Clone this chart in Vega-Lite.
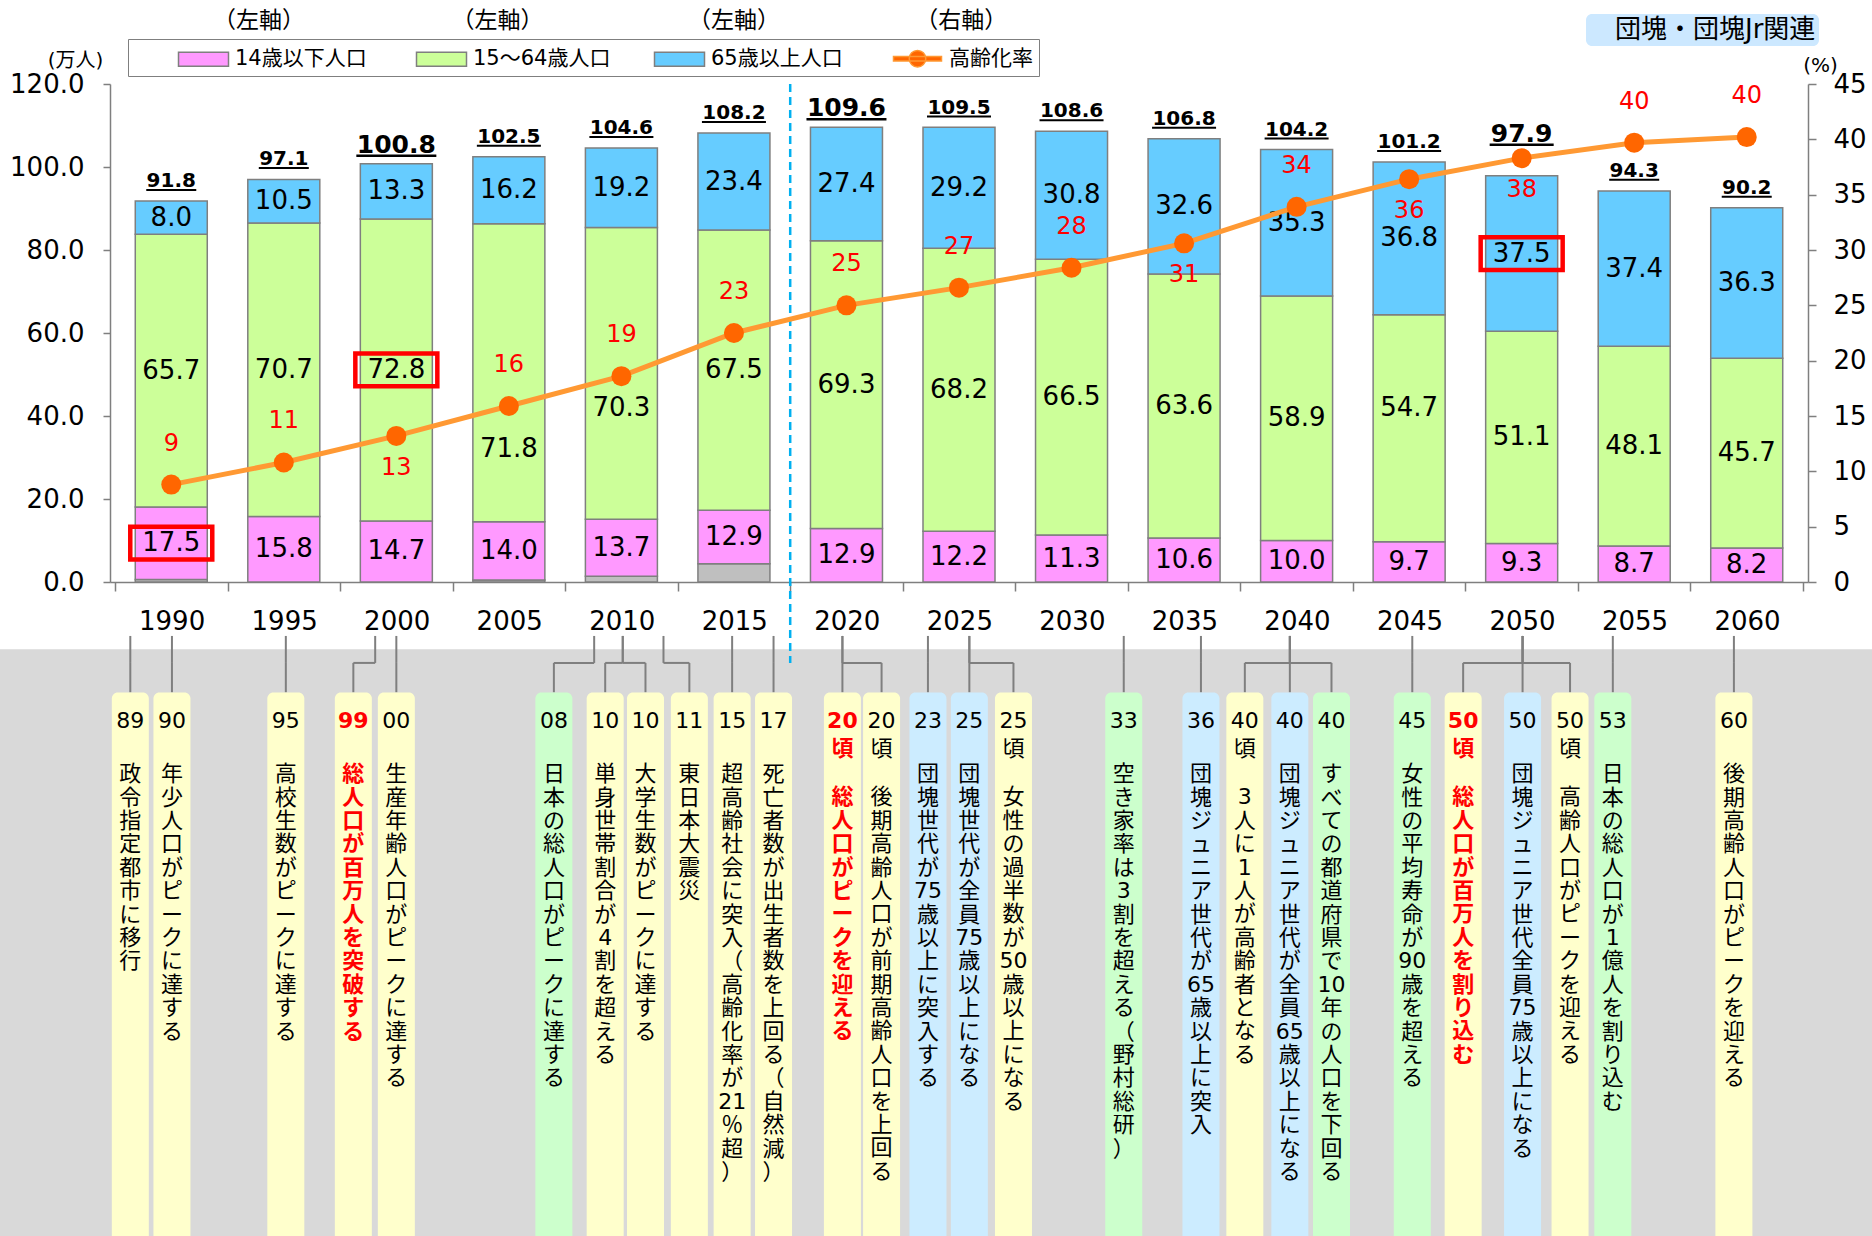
{
  "$schema": "https://vega.github.io/schema/vega-lite/v6.json",
  "autosize": {"type": "none"},
  "padding": {"left": 110, "top": 84, "right": 64, "bottom": 654},
  "width": 1698,
  "height": 498,
  "background": "#ffffff",
  "config": {
    "view": {"stroke": null},
    "font": "DejaVu Sans, Noto Sans CJK JP",
    "axis": {"grid": false, "domainColor": "#7F7F7F", "tickColor": "#7F7F7F", "domainWidth": 1.5, "tickWidth": 1.5, "labelColor": "#000000", "titleColor": "#000000", "titleFontWeight": "normal", "labelFontSize": 26, "titleFontSize": 20},
    "legend": {"labelColor": "#000000", "labelFontSize": 20}
  },
  "datasets": {
    "segments": [
      {"year": 1990, "group": "不詳", "value": 0.6},
      {"year": 1990, "group": "14歳以下人口", "value": 17.5},
      {"year": 1990, "group": "15～64歳人口", "value": 65.7},
      {"year": 1990, "group": "65歳以上人口", "value": 8.0},
      {"year": 1995, "group": "14歳以下人口", "value": 15.8},
      {"year": 1995, "group": "15～64歳人口", "value": 70.7},
      {"year": 1995, "group": "65歳以上人口", "value": 10.5},
      {"year": 2000, "group": "14歳以下人口", "value": 14.7},
      {"year": 2000, "group": "15～64歳人口", "value": 72.8},
      {"year": 2000, "group": "65歳以上人口", "value": 13.3},
      {"year": 2005, "group": "不詳", "value": 0.5},
      {"year": 2005, "group": "14歳以下人口", "value": 14.0},
      {"year": 2005, "group": "15～64歳人口", "value": 71.8},
      {"year": 2005, "group": "65歳以上人口", "value": 16.2},
      {"year": 2010, "group": "不詳", "value": 1.4},
      {"year": 2010, "group": "14歳以下人口", "value": 13.7},
      {"year": 2010, "group": "15～64歳人口", "value": 70.3},
      {"year": 2010, "group": "65歳以上人口", "value": 19.2},
      {"year": 2015, "group": "不詳", "value": 4.4},
      {"year": 2015, "group": "14歳以下人口", "value": 12.9},
      {"year": 2015, "group": "15～64歳人口", "value": 67.5},
      {"year": 2015, "group": "65歳以上人口", "value": 23.4},
      {"year": 2020, "group": "14歳以下人口", "value": 12.9},
      {"year": 2020, "group": "15～64歳人口", "value": 69.3},
      {"year": 2020, "group": "65歳以上人口", "value": 27.4},
      {"year": 2025, "group": "14歳以下人口", "value": 12.2},
      {"year": 2025, "group": "15～64歳人口", "value": 68.2},
      {"year": 2025, "group": "65歳以上人口", "value": 29.2},
      {"year": 2030, "group": "14歳以下人口", "value": 11.3},
      {"year": 2030, "group": "15～64歳人口", "value": 66.5},
      {"year": 2030, "group": "65歳以上人口", "value": 30.8},
      {"year": 2035, "group": "14歳以下人口", "value": 10.6},
      {"year": 2035, "group": "15～64歳人口", "value": 63.6},
      {"year": 2035, "group": "65歳以上人口", "value": 32.6},
      {"year": 2040, "group": "14歳以下人口", "value": 10.0},
      {"year": 2040, "group": "15～64歳人口", "value": 58.9},
      {"year": 2040, "group": "65歳以上人口", "value": 35.3},
      {"year": 2045, "group": "14歳以下人口", "value": 9.7},
      {"year": 2045, "group": "15～64歳人口", "value": 54.7},
      {"year": 2045, "group": "65歳以上人口", "value": 36.8},
      {"year": 2050, "group": "14歳以下人口", "value": 9.3},
      {"year": 2050, "group": "15～64歳人口", "value": 51.1},
      {"year": 2050, "group": "65歳以上人口", "value": 37.5},
      {"year": 2055, "group": "14歳以下人口", "value": 8.7},
      {"year": 2055, "group": "15～64歳人口", "value": 48.1},
      {"year": 2055, "group": "65歳以上人口", "value": 37.4},
      {"year": 2060, "group": "14歳以下人口", "value": 8.2},
      {"year": 2060, "group": "15～64歳人口", "value": 45.7},
      {"year": 2060, "group": "65歳以上人口", "value": 36.3}
    ],
    "years": [
      {"year": 1990, "total": 91.8, "rate": 8.8},
      {"year": 1995, "total": 97.1, "rate": 10.8},
      {"year": 2000, "total": 100.8, "rate": 13.2},
      {"year": 2005, "total": 102.5, "rate": 15.9},
      {"year": 2010, "total": 104.6, "rate": 18.6},
      {"year": 2015, "total": 108.2, "rate": 22.5},
      {"year": 2020, "total": 109.6, "rate": 25.0},
      {"year": 2025, "total": 109.5, "rate": 26.6},
      {"year": 2030, "total": 108.6, "rate": 28.4},
      {"year": 2035, "total": 106.8, "rate": 30.6},
      {"year": 2040, "total": 104.2, "rate": 33.9},
      {"year": 2045, "total": 101.2, "rate": 36.4},
      {"year": 2050, "total": 97.9, "rate": 38.3},
      {"year": 2055, "total": 94.3, "rate": 39.7},
      {"year": 2060, "total": 90.2, "rate": 40.2}
    ],
    "events": [
      {"pos": 1988.18, "anchor": 1988.18, "cat": "本市", "em": 0, "text": "89　政令指定都市に移行"},
      {"pos": 1990.03, "anchor": 1990.03, "cat": "本市", "em": 0, "text": "90　年少人口がピークに達する"},
      {"pos": 1995.09, "anchor": 1995.09, "cat": "本市", "em": 0, "text": "95　高校生数がピークに達する"},
      {"pos": 1998.09, "anchor": 1999.06, "cat": "本市", "em": 1, "text": "99　総人口が百万人を突破する"},
      {"pos": 2000.0, "anchor": 2000.0, "cat": "本市", "em": 0, "text": "00　生産年齢人口がピークに達する"},
      {"pos": 2007.0, "anchor": 2008.79, "cat": "全国", "em": 0, "text": "08　日本の総人口がピークに達する"},
      {"pos": 2009.28, "anchor": 2010.06, "cat": "本市", "em": 0, "text": "10　単身世帯割合が4割を超える"},
      {"pos": 2011.07, "anchor": 2010.06, "cat": "本市", "em": 0, "text": "10　大学生数がピークに達する"},
      {"pos": 2013.02, "anchor": 2011.87, "cat": "本市", "em": 0, "text": "11　東日本大震災"},
      {"pos": 2014.92, "anchor": 2014.92, "cat": "本市", "em": 0, "text": "15　超高齢社会に突入（高齢化率が21％超）"},
      {"pos": 2016.76, "anchor": 2016.76, "cat": "本市", "em": 0, "text": "17　死亡者数が出生者数を上回る（自然減）"},
      {"pos": 2019.82, "anchor": 2019.82, "cat": "本市", "em": 1, "text": "20頃　総人口がピークを迎える"},
      {"pos": 2021.56, "anchor": 2019.82, "cat": "本市", "em": 0, "text": "20頃　後期高齢人口が前期高齢人口を上回る"},
      {"pos": 2023.62, "anchor": 2023.62, "cat": "団塊・団塊Jr関連", "em": 0, "text": "23　団塊世代が75歳以上に突入する"},
      {"pos": 2025.46, "anchor": 2025.46, "cat": "団塊・団塊Jr関連", "em": 0, "text": "25　団塊世代が全員75歳以上になる"},
      {"pos": 2027.42, "anchor": 2025.46, "cat": "本市", "em": 0, "text": "25頃　女性の過半数が50歳以上になる"},
      {"pos": 2032.32, "anchor": 2032.32, "cat": "全国", "em": 0, "text": "33　空き家率は3割を超える（野村総研）"},
      {"pos": 2035.75, "anchor": 2035.75, "cat": "団塊・団塊Jr関連", "em": 0, "text": "36　団塊ジュニア世代が65歳以上に突入"},
      {"pos": 2037.70, "anchor": 2039.70, "cat": "本市", "em": 0, "text": "40頃　3人に1人が高齢者となる"},
      {"pos": 2039.70, "anchor": 2039.70, "cat": "団塊・団塊Jr関連", "em": 0, "text": "40　団塊ジュニア世代が全員65歳以上になる"},
      {"pos": 2041.55, "anchor": 2039.70, "cat": "全国", "em": 0, "text": "40　すべての都道府県で10年の人口を下回る"},
      {"pos": 2045.14, "anchor": 2045.14, "cat": "全国", "em": 0, "text": "45　女性の平均寿命が90歳を超える"},
      {"pos": 2047.40, "anchor": 2050.04, "cat": "本市", "em": 1, "text": "50頃　総人口が百万人を割り込む"},
      {"pos": 2050.04, "anchor": 2050.04, "cat": "団塊・団塊Jr関連", "em": 0, "text": "50　団塊ジュニア世代全員75歳以上になる"},
      {"pos": 2052.15, "anchor": 2050.04, "cat": "本市", "em": 0, "text": "50頃　高齢人口がピークを迎える"},
      {"pos": 2054.05, "anchor": 2054.05, "cat": "全国", "em": 0, "text": "53　日本の総人口が1億人を割り込む"},
      {"pos": 2059.43, "anchor": 2059.43, "cat": "本市", "em": 0, "text": "60　後期高齢人口がピークを迎える"}
    ],
    "notes": [
      {"label": "（左軸）", "pos": 1993.9},
      {"label": "（左軸）", "pos": 2004.5},
      {"label": "（左軸）", "pos": 2015.0},
      {"label": "（右軸）", "pos": 2025.1}
    ]
  },
  "layer": [
    {
      "layer": [
        {
          "data": {"name": "segments"},
          "transform": [
            {"calculate": "indexof(['不詳','14歳以下人口','15～64歳人口','65歳以上人口'], datum.group)", "as": "k"},
            {"stack": "value", "groupby": ["year"], "sort": [{"field": "k", "order": "ascending"}], "as": ["y0", "y1"]}
          ],
          "mark": {"type": "bar", "width": 72, "stroke": "#7F7F7F", "strokeWidth": 1.5, "orient": "vertical"},
          "encoding": {
            "x": {"field": "year", "type": "quantitative", "scale": {"domain": [1987.5, 2062.5], "nice": false, "zero": false},
              "axis": {"title": null, "values": [1987.5, 1992.5, 1997.5, 2002.5, 2007.5, 2012.5, 2017.5, 2022.5, 2027.5, 2032.5, 2037.5, 2042.5, 2047.5, 2052.5, 2057.5, 2062.5],
                "labelExpr": "datum.value < 2060 ? format(datum.value + 2.5, 'd') : ''",
                "labelOffset": 56.6, "labelFlush": false, "labelOverlap": false, "labelBound": false,
                "tickSize": 9, "labelPadding": 17, "labelFontSize": 26}},
            "y": {"field": "y0", "type": "quantitative", "scale": {"domain": [0, 120], "nice": false, "zero": false},
              "axis": {"title": "(万人)", "titleAngle": 0, "titleX": -35, "titleY": -24, "titleAlign": "center", "titleBaseline": "middle", "titleFontSize": 20,
                "values": [0, 20, 40, 60, 80, 100, 120], "format": ".1f", "tickSize": 7, "labelPadding": 19, "labelFontSize": 26, "labelOverlap": false}},
            "y2": {"field": "y1"},
            "color": {"field": "group", "type": "nominal",
              "scale": {"domain": ["14歳以下人口", "15～64歳人口", "65歳以上人口", "高齢化率", "不詳"], "range": ["#FF99FF", "#CCFF99", "#66CCFF", "#FF6600", "#BFBFBF"]},
              "legend": {"orient": "none", "legendX": 18, "legendY": -45, "direction": "horizontal", "columns": 4,
                "values": ["14歳以下人口", "15～64歳人口", "65歳以上人口", "高齢化率"],
                "title": "　", "titleOrient": "left", "titlePadding": 56, "titleFontSize": 20,
                "strokeColor": "#7F7F7F", "padding": 6, "labelFontSize": 21, "labelOffset": 18,
                "columnPadding": 40, "gridAlign": "all", "labelLimit": 300,
                "labelExpr": "datum.label === '高齢化率' ? datum.label + '　' : datum.label",
                "symbolType": {"expr": "datum.value === '高齢化率' ? 'M-1.92,-0.18H1.92V0.18H-1.92Z M0.66,0A0.66,0.66 0 1 1 -0.66,0A0.66,0.66 0 1 1 0.66,0Z' : 'M-2,-0.56H2V0.56H-2Z'"},
                "symbolSize": 625,
                "symbolStrokeColor": {"expr": "datum.value === '高齢化率' ? '#FF9933' : '#7F7F7F'"},
                "symbolStrokeWidth": 1.5}}
          }
        },
        {
          "data": {"name": "segments"},
          "transform": [
            {"calculate": "indexof(['不詳','14歳以下人口','15～64歳人口','65歳以上人口'], datum.group)", "as": "k"},
            {"stack": "value", "groupby": ["year"], "sort": [{"field": "k", "order": "ascending"}], "as": ["y0", "y1"]},
            {"filter": "datum.group !== '不詳' && !(datum.group === '15～64歳人口' && indexof([2005, 2010, 2045], datum.year) >= 0)"},
            {"calculate": "(datum.y0 + datum.y1) / 2", "as": "mid"}
          ],
          "mark": {"type": "text", "fontSize": 26, "color": "#000000", "baseline": "middle", "align": "center"},
          "encoding": {
            "x": {"field": "year", "type": "quantitative", "scale": {"domain": [1987.5, 2062.5], "nice": false, "zero": false}},
            "y": {"field": "mid", "type": "quantitative", "scale": {"domain": [0, 120], "nice": false, "zero": false}},
            "text": {"field": "value", "type": "quantitative", "format": ".1f"}
          }
        },
        {
          "data": {"name": "segments"},
          "transform": [
            {"calculate": "indexof(['不詳','14歳以下人口','15～64歳人口','65歳以上人口'], datum.group)", "as": "k"},
            {"stack": "value", "groupby": ["year"], "sort": [{"field": "k", "order": "ascending"}], "as": ["y0", "y1"]},
            {"filter": "datum.group === '15～64歳人口' && datum.year === 2005"},
            {"calculate": "(datum.y0 + datum.y1) / 2", "as": "mid"}
          ],
          "mark": {"type": "text", "fontSize": 26, "color": "#000000", "baseline": "middle", "align": "center", "dy": 76},
          "encoding": {
            "x": {"field": "year", "type": "quantitative", "scale": {"domain": [1987.5, 2062.5], "nice": false, "zero": false}},
            "y": {"field": "mid", "type": "quantitative", "scale": {"domain": [0, 120], "nice": false, "zero": false}},
            "text": {"field": "value", "type": "quantitative", "format": ".1f"}
          }
        },
        {
          "data": {"name": "segments"},
          "transform": [
            {"calculate": "indexof(['不詳','14歳以下人口','15～64歳人口','65歳以上人口'], datum.group)", "as": "k"},
            {"stack": "value", "groupby": ["year"], "sort": [{"field": "k", "order": "ascending"}], "as": ["y0", "y1"]},
            {"filter": "datum.group === '15～64歳人口' && datum.year === 2010"},
            {"calculate": "(datum.y0 + datum.y1) / 2", "as": "mid"}
          ],
          "mark": {"type": "text", "fontSize": 26, "color": "#000000", "baseline": "middle", "align": "center", "dy": 35},
          "encoding": {
            "x": {"field": "year", "type": "quantitative", "scale": {"domain": [1987.5, 2062.5], "nice": false, "zero": false}},
            "y": {"field": "mid", "type": "quantitative", "scale": {"domain": [0, 120], "nice": false, "zero": false}},
            "text": {"field": "value", "type": "quantitative", "format": ".1f"}
          }
        },
        {
          "data": {"name": "segments"},
          "transform": [
            {"calculate": "indexof(['不詳','14歳以下人口','15～64歳人口','65歳以上人口'], datum.group)", "as": "k"},
            {"stack": "value", "groupby": ["year"], "sort": [{"field": "k", "order": "ascending"}], "as": ["y0", "y1"]},
            {"filter": "datum.group === '15～64歳人口' && datum.year === 2045"},
            {"calculate": "(datum.y0 + datum.y1) / 2", "as": "mid"}
          ],
          "mark": {"type": "text", "fontSize": 26, "color": "#000000", "baseline": "middle", "align": "center", "dy": -20},
          "encoding": {
            "x": {"field": "year", "type": "quantitative", "scale": {"domain": [1987.5, 2062.5], "nice": false, "zero": false}},
            "y": {"field": "mid", "type": "quantitative", "scale": {"domain": [0, 120], "nice": false, "zero": false}},
            "text": {"field": "value", "type": "quantitative", "format": ".1f"}
          }
        },
        {
          "data": {"name": "segments"},
          "transform": [
            {"calculate": "indexof(['不詳','14歳以下人口','15～64歳人口','65歳以上人口'], datum.group)", "as": "k"},
            {"stack": "value", "groupby": ["year"], "sort": [{"field": "k", "order": "ascending"}], "as": ["y0", "y1"]},
            {"filter": "(datum.year === 1990 && datum.group === '14歳以下人口') || (datum.year === 2000 && datum.group === '15～64歳人口') || (datum.year === 2050 && datum.group === '65歳以上人口')"},
            {"calculate": "(datum.y0 + datum.y1) / 2", "as": "mid"}
          ],
          "mark": {"type": "point", "shape": "M-1,-0.4H1V0.4H-1Z", "filled": false, "color": "#FF0000", "strokeWidth": 4.5, "size": 6724, "opacity": 1},
          "encoding": {
            "x": {"field": "year", "type": "quantitative", "scale": {"domain": [1987.5, 2062.5], "nice": false, "zero": false}},
            "y": {"field": "mid", "type": "quantitative", "scale": {"domain": [0, 120], "nice": false, "zero": false}}
          }
        },
        {
          "data": {"name": "years"},
          "transform": [{"filter": "datum.total < 100 && datum.year !== 2050"}],
          "mark": {"type": "tick", "orient": "horizontal", "size": 50, "thickness": 2, "color": "#000000", "yOffset": -11, "opacity": 1},
          "encoding": {
            "x": {"field": "year", "type": "quantitative", "scale": {"domain": [1987.5, 2062.5], "nice": false, "zero": false}},
            "y": {"field": "total", "type": "quantitative", "scale": {"domain": [0, 120], "nice": false, "zero": false}}
          }
        },
        {
          "data": {"name": "years"},
          "transform": [{"filter": "datum.total >= 100 && datum.year !== 2000 && datum.year !== 2020"}],
          "mark": {"type": "tick", "orient": "horizontal", "size": 64, "thickness": 2, "color": "#000000", "yOffset": -11, "opacity": 1},
          "encoding": {
            "x": {"field": "year", "type": "quantitative", "scale": {"domain": [1987.5, 2062.5], "nice": false, "zero": false}},
            "y": {"field": "total", "type": "quantitative", "scale": {"domain": [0, 120], "nice": false, "zero": false}}
          }
        },
        {
          "data": {"name": "years"},
          "transform": [{"filter": "datum.year === 2000 || datum.year === 2020"}],
          "mark": {"type": "tick", "orient": "horizontal", "size": 80, "thickness": 2.5, "color": "#000000", "yOffset": -8, "opacity": 1},
          "encoding": {
            "x": {"field": "year", "type": "quantitative", "scale": {"domain": [1987.5, 2062.5], "nice": false, "zero": false}},
            "y": {"field": "total", "type": "quantitative", "scale": {"domain": [0, 120], "nice": false, "zero": false}}
          }
        },
        {
          "data": {"name": "years"},
          "transform": [{"filter": "datum.year === 2050"}],
          "mark": {"type": "tick", "orient": "horizontal", "size": 64, "thickness": 2.5, "color": "#000000", "yOffset": -31, "opacity": 1},
          "encoding": {
            "x": {"field": "year", "type": "quantitative", "scale": {"domain": [1987.5, 2062.5], "nice": false, "zero": false}},
            "y": {"field": "total", "type": "quantitative", "scale": {"domain": [0, 120], "nice": false, "zero": false}}
          }
        },
        {
          "data": {"name": "years"},
          "transform": [{"filter": "datum.year !== 2000 && datum.year !== 2020 && datum.year !== 2050"}],
          "mark": {"type": "text", "fontSize": 20, "fontWeight": "bold", "color": "#000000", "baseline": "alphabetic", "align": "center", "dy": -14},
          "encoding": {
            "x": {"field": "year", "type": "quantitative", "scale": {"domain": [1987.5, 2062.5], "nice": false, "zero": false}},
            "y": {"field": "total", "type": "quantitative", "scale": {"domain": [0, 120], "nice": false, "zero": false}},
            "text": {"field": "total", "type": "quantitative", "format": ".1f"}
          }
        },
        {
          "data": {"name": "years"},
          "transform": [{"filter": "datum.year === 2000 || datum.year === 2020"}],
          "mark": {"type": "text", "fontSize": 25, "fontWeight": "bold", "color": "#000000", "baseline": "alphabetic", "align": "center", "dy": -11},
          "encoding": {
            "x": {"field": "year", "type": "quantitative", "scale": {"domain": [1987.5, 2062.5], "nice": false, "zero": false}},
            "y": {"field": "total", "type": "quantitative", "scale": {"domain": [0, 120], "nice": false, "zero": false}},
            "text": {"field": "total", "type": "quantitative", "format": ".1f"}
          }
        },
        {
          "data": {"name": "years"},
          "transform": [{"filter": "datum.year === 2050"}],
          "mark": {"type": "text", "fontSize": 25, "fontWeight": "bold", "color": "#000000", "baseline": "alphabetic", "align": "center", "dy": -34},
          "encoding": {
            "x": {"field": "year", "type": "quantitative", "scale": {"domain": [1987.5, 2062.5], "nice": false, "zero": false}},
            "y": {"field": "total", "type": "quantitative", "scale": {"domain": [0, 120], "nice": false, "zero": false}},
            "text": {"field": "total", "type": "quantitative", "format": ".1f"}
          }
        },
        {
          "data": {"values": [{}]},
          "mark": {"type": "rect", "color": "#D9D9D9"},
          "encoding": {
            "x": {"datum": 1980, "type": "quantitative", "scale": {"domain": [1987.5, 2062.5], "nice": false, "zero": false}},
            "x2": {"datum": 2070},
            "y": {"datum": -16.2, "type": "quantitative", "scale": {"domain": [0, 120], "nice": false, "zero": false}},
            "y2": {"datum": -200}
          }
        },
        {
          "data": {"name": "events"},
          "mark": {"type": "rule", "color": "#7F7F7F", "strokeWidth": 2},
          "encoding": {
            "x": {"field": "anchor", "type": "quantitative", "scale": {"domain": [1987.5, 2062.5], "nice": false, "zero": false}},
            "y": {"datum": -13.0, "type": "quantitative", "scale": {"domain": [0, 120], "nice": false, "zero": false}},
            "y2": {"datum": -19.5}
          }
        },
        {
          "data": {"name": "events"},
          "mark": {"type": "rule", "color": "#7F7F7F", "strokeWidth": 2},
          "encoding": {
            "x": {"field": "anchor", "type": "quantitative", "scale": {"domain": [1987.5, 2062.5], "nice": false, "zero": false}},
            "x2": {"field": "pos"},
            "y": {"datum": -19.5, "type": "quantitative", "scale": {"domain": [0, 120], "nice": false, "zero": false}}
          }
        },
        {
          "data": {"name": "events"},
          "mark": {"type": "rule", "color": "#7F7F7F", "strokeWidth": 2},
          "encoding": {
            "x": {"field": "pos", "type": "quantitative", "scale": {"domain": [1987.5, 2062.5], "nice": false, "zero": false}},
            "y": {"datum": -19.5, "type": "quantitative", "scale": {"domain": [0, 120], "nice": false, "zero": false}},
            "y2": {"datum": -26.6}
          }
        },
        {
          "data": {"name": "events"},
          "mark": {"type": "bar", "width": 37, "cornerRadiusTopLeft": 6, "cornerRadiusTopRight": 6, "orient": "vertical"},
          "encoding": {
            "x": {"field": "pos", "type": "quantitative", "scale": {"domain": [1987.5, 2062.5], "nice": false, "zero": false}},
            "y": {"datum": -26.6, "type": "quantitative", "scale": {"domain": [0, 120], "nice": false, "zero": false}},
            "y2": {"datum": -200},
            "fill": {"field": "cat", "type": "nominal",
              "scale": {"domain": ["本市", "全国", "団塊・団塊Jr関連"], "range": ["#FFFFCC", "#CCFFCC", "#CCECFF"]},
              "legend": {"orient": "none", "legendX": 1476, "legendY": -70, "values": ["団塊・団塊Jr関連"], "title": null,
                "fillColor": "#CCE8FF", "cornerRadius": 6, "padding": 3, "labelFontSize": 26, "labelLimit": 400,
                "symbolSize": 196, "symbolOpacity": 0, "symbolStrokeWidth": 0, "labelOffset": 0,
                "labelExpr": "datum.label + '　　　'"}}
          }
        },
        {
          "data": {"name": "events"},
          "transform": [
            {"filter": "datum.em == 0"},
            {"calculate": "split(split(datum.text, '　')[0], regexp('(?<![0-9])|(?![0-9])'))", "as": "head"}
          ],
          "mark": {"type": "text", "align": "center", "baseline": "top", "fontSize": 22, "lineHeight": 28, "color": "#000000"},
          "encoding": {
            "x": {"field": "pos", "type": "quantitative", "scale": {"domain": [1987.5, 2062.5], "nice": false, "zero": false}},
            "y": {"datum": -31.1, "type": "quantitative", "scale": {"domain": [0, 120], "nice": false, "zero": false}},
            "text": {"field": "head"}
          }
        },
        {
          "data": {"name": "events"},
          "transform": [
            {"filter": "datum.em == 1"},
            {"calculate": "split(split(datum.text, '　')[0], regexp('(?<![0-9])|(?![0-9])'))", "as": "head"}
          ],
          "mark": {"type": "text", "align": "center", "baseline": "top", "fontSize": 22, "fontWeight": "bold", "lineHeight": 28, "color": "#FF0000"},
          "encoding": {
            "x": {"field": "pos", "type": "quantitative", "scale": {"domain": [1987.5, 2062.5], "nice": false, "zero": false}},
            "y": {"datum": -31.1, "type": "quantitative", "scale": {"domain": [0, 120], "nice": false, "zero": false}},
            "text": {"field": "head"}
          }
        },
        {
          "data": {"name": "events"},
          "transform": [
            {"filter": "datum.em == 0 && indexof(datum.text, '頃') < 0"},
            {"calculate": "split(split(datum.text, '　')[1], regexp('(?<![0-9])|(?![0-9])'))", "as": "body"}
          ],
          "mark": {"type": "text", "align": "center", "baseline": "top", "fontSize": 22, "lineHeight": 23.4, "color": "#000000"},
          "encoding": {
            "x": {"field": "pos", "type": "quantitative", "scale": {"domain": [1987.5, 2062.5], "nice": false, "zero": false}},
            "y": {"datum": -43.9, "type": "quantitative", "scale": {"domain": [0, 120], "nice": false, "zero": false}},
            "text": {"field": "body"}
          }
        },
        {
          "data": {"name": "events"},
          "transform": [
            {"filter": "datum.em == 0 && indexof(datum.text, '頃') >= 0"},
            {"calculate": "split(split(datum.text, '　')[1], regexp('(?<![0-9])|(?![0-9])'))", "as": "body"}
          ],
          "mark": {"type": "text", "align": "center", "baseline": "top", "fontSize": 22, "lineHeight": 23.4, "color": "#000000"},
          "encoding": {
            "x": {"field": "pos", "type": "quantitative", "scale": {"domain": [1987.5, 2062.5], "nice": false, "zero": false}},
            "y": {"datum": -49.5, "type": "quantitative", "scale": {"domain": [0, 120], "nice": false, "zero": false}},
            "text": {"field": "body"}
          }
        },
        {
          "data": {"name": "events"},
          "transform": [
            {"filter": "datum.em == 1 && indexof(datum.text, '頃') < 0"},
            {"calculate": "split(split(datum.text, '　')[1], regexp('(?<![0-9])|(?![0-9])'))", "as": "body"}
          ],
          "mark": {"type": "text", "align": "center", "baseline": "top", "fontSize": 22, "fontWeight": "bold", "lineHeight": 23.4, "color": "#FF0000"},
          "encoding": {
            "x": {"field": "pos", "type": "quantitative", "scale": {"domain": [1987.5, 2062.5], "nice": false, "zero": false}},
            "y": {"datum": -43.9, "type": "quantitative", "scale": {"domain": [0, 120], "nice": false, "zero": false}},
            "text": {"field": "body"}
          }
        },
        {
          "data": {"name": "events"},
          "transform": [
            {"filter": "datum.em == 1 && indexof(datum.text, '頃') >= 0"},
            {"calculate": "split(split(datum.text, '　')[1], regexp('(?<![0-9])|(?![0-9])'))", "as": "body"}
          ],
          "mark": {"type": "text", "align": "center", "baseline": "top", "fontSize": 22, "fontWeight": "bold", "lineHeight": 23.4, "color": "#FF0000"},
          "encoding": {
            "x": {"field": "pos", "type": "quantitative", "scale": {"domain": [1987.5, 2062.5], "nice": false, "zero": false}},
            "y": {"datum": -49.5, "type": "quantitative", "scale": {"domain": [0, 120], "nice": false, "zero": false}},
            "text": {"field": "body"}
          }
        },
        {
          "data": {"values": [{}]},
          "mark": {"type": "rule", "color": "#00B0F0", "strokeWidth": 2.5, "strokeDash": [8, 5]},
          "encoding": {
            "x": {"datum": 2017.5, "type": "quantitative", "scale": {"domain": [1987.5, 2062.5], "nice": false, "zero": false}},
            "y": {"datum": 120, "type": "quantitative", "scale": {"domain": [0, 120], "nice": false, "zero": false}},
            "y2": {"datum": -19.5}
          }
        },
        {
          "data": {"name": "notes"},
          "mark": {"type": "text", "fontSize": 23, "color": "#000000", "align": "center", "baseline": "middle"},
          "encoding": {
            "x": {"field": "pos", "type": "quantitative", "scale": {"domain": [1987.5, 2062.5], "nice": false, "zero": false}},
            "y": {"datum": 135.1, "type": "quantitative", "scale": {"domain": [0, 120], "nice": false, "zero": false}},
            "text": {"field": "label"}
          }
        }
      ]
    },
    {
      "layer": [
        {
          "data": {"name": "years"},
          "mark": {"type": "line", "color": "#FF9933", "strokeWidth": 5},
          "encoding": {
            "x": {"field": "year", "type": "quantitative", "scale": {"domain": [1987.5, 2062.5], "nice": false, "zero": false}},
            "y": {"field": "rate", "type": "quantitative", "scale": {"domain": [0, 45], "nice": false, "zero": false},
              "axis": {"orient": "right", "title": "(%)", "titleAngle": 0, "titleX": 12, "titleY": -19, "titleAlign": "center", "titleBaseline": "middle", "titleFontSize": 20,
                "values": [0, 5, 10, 15, 20, 25, 30, 35, 40, 45], "tickSize": 8, "labelPadding": 17, "labelFontSize": 26, "labelOverlap": false}}
          }
        },
        {
          "data": {"name": "years"},
          "mark": {"type": "point", "filled": true, "size": 400, "opacity": 1, "color": "#FF6600", "strokeWidth": 0},
          "encoding": {
            "x": {"field": "year", "type": "quantitative", "scale": {"domain": [1987.5, 2062.5], "nice": false, "zero": false}},
            "y": {"field": "rate", "type": "quantitative", "scale": {"domain": [0, 45], "nice": false, "zero": false}}
          }
        },
        {
          "data": {"name": "years"},
          "transform": [{"filter": "indexof([2000, 2035, 2045, 2050], datum.year) < 0"}],
          "mark": {"type": "text", "fontSize": 24, "color": "#FF0000", "align": "center", "baseline": "middle", "dy": -41},
          "encoding": {
            "x": {"field": "year", "type": "quantitative", "scale": {"domain": [1987.5, 2062.5], "nice": false, "zero": false}},
            "y": {"field": "rate", "type": "quantitative", "scale": {"domain": [0, 45], "nice": false, "zero": false}},
            "text": {"field": "rate", "type": "quantitative", "format": ".0f"}
          }
        },
        {
          "data": {"name": "years"},
          "transform": [{"filter": "indexof([2000, 2035, 2045, 2050], datum.year) >= 0"}],
          "mark": {"type": "text", "fontSize": 24, "color": "#FF0000", "align": "center", "baseline": "middle", "dy": 32},
          "encoding": {
            "x": {"field": "year", "type": "quantitative", "scale": {"domain": [1987.5, 2062.5], "nice": false, "zero": false}},
            "y": {"field": "rate", "type": "quantitative", "scale": {"domain": [0, 45], "nice": false, "zero": false}},
            "text": {"field": "rate", "type": "quantitative", "format": ".0f"}
          }
        }
      ]
    }
  ],
  "resolve": {"scale": {"y": "independent"}}
}
